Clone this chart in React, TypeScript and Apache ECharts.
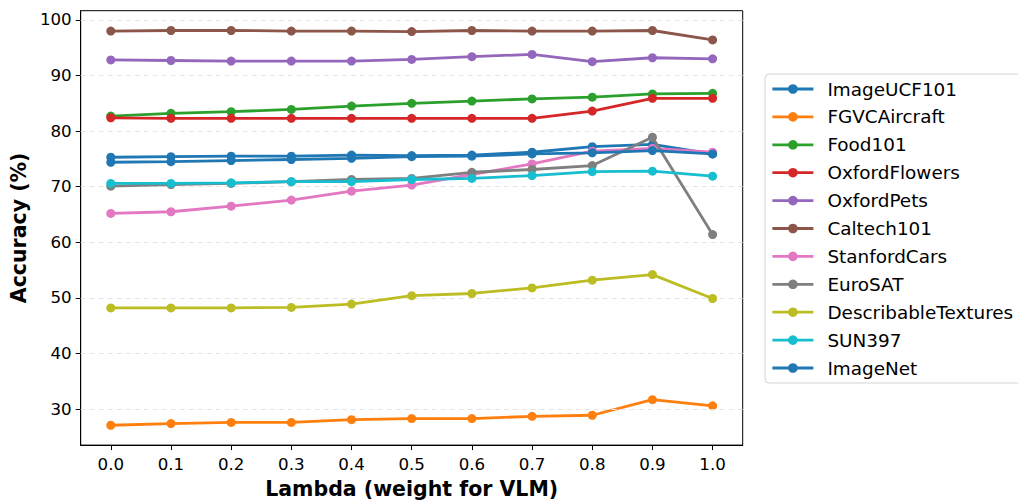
import React, { useEffect, useRef } from "react";
import * as echarts from "echarts";

const lambdas = [0.0, 0.1, 0.2, 0.3, 0.4, 0.5, 0.6, 0.7, 0.8, 0.9, 1.0];
const xTicks = [0.0, 0.1, 0.2, 0.3, 0.4, 0.5, 0.6, 0.7, 0.8, 0.9, 1.0];
const yTicks = [30, 40, 50, 60, 70, 80, 90, 100];

const seriesNames = [
  "ImageUCF101",
  "FGVCAircraft",
  "Food101",
  "OxfordFlowers",
  "OxfordPets",
  "Caltech101",
  "StanfordCars",
  "EuroSAT",
  "DescribableTextures",
  "SUN397",
  "ImageNet",
];

const imageUCF101 = [75.3, 75.4, 75.5, 75.5, 75.7, 75.6, 75.7, 76.2, 77.2, 77.6, 75.9];
const fgvcAircraft = [27.1, 27.4, 27.6, 27.6, 28.1, 28.3, 28.3, 28.7, 28.9, 31.7, 30.6];
const food101 = [82.7, 83.2, 83.5, 83.9, 84.5, 85.0, 85.4, 85.8, 86.1, 86.7, 86.8];
const oxfordFlowers = [82.4, 82.3, 82.3, 82.3, 82.3, 82.3, 82.3, 82.3, 83.6, 85.9, 85.9];
const oxfordPets = [92.8, 92.7, 92.6, 92.6, 92.6, 92.9, 93.4, 93.8, 92.5, 93.2, 93.0];
const caltech101 = [98.0, 98.1, 98.1, 98.0, 98.0, 97.9, 98.1, 98.0, 98.0, 98.1, 96.4];
const stanfordCars = [65.2, 65.5, 66.5, 67.6, 69.2, 70.3, 72.2, 74.1, 76.4, 76.9, 76.2];
const euroSAT = [70.1, 70.4, 70.6, 70.9, 71.3, 71.5, 72.6, 73.1, 73.8, 78.9, 61.4];
const describableTextures = [48.2, 48.2, 48.2, 48.3, 48.9, 50.4, 50.8, 51.8, 53.2, 54.2, 49.9];
const sun397 = [70.6, 70.6, 70.7, 70.9, 70.9, 71.3, 71.5, 72.0, 72.7, 72.8, 71.9];
const imageNet = [74.4, 74.5, 74.7, 74.9, 75.1, 75.4, 75.5, 75.9, 76.1, 76.5, 75.9];

const seriesValues = [
  imageUCF101,
  fgvcAircraft,
  food101,
  oxfordFlowers,
  oxfordPets,
  caltech101,
  stanfordCars,
  euroSAT,
  describableTextures,
  sun397,
  imageNet,
];

const colors = [
  "#1f77b4",
  "#ff7f0e",
  "#2ca02c",
  "#d62728",
  "#9467bd",
  "#8c564b",
  "#e377c2",
  "#7f7f7f",
  "#bcbd22",
  "#17becf",
  "#1f77b4",
];

const FONT = "DejaVu Sans";

export default function App() {
  const ref = useRef<HTMLDivElement>(null);
  useEffect(() => {
    if (!ref.current) return;
    const chart = echarts.init(ref.current, undefined, { renderer: "svg" });
    const lineSeries = seriesNames.map((name, i) => ({
      name,
      type: "line",
      data: lambdas.map((x, j) => [x, seriesValues[i][j]]),
      symbol: "circle",
      symbolSize: 9,
      lineStyle: { width: 2.8, color: colors[i] },
      itemStyle: { color: colors[i] },
      z: 3 + i,
    }));
    const gridSeries = {
      name: "__grid",
      type: "line",
      data: [],
      silent: true,
      z: 1,
      markLine: {
        silent: true,
        symbol: ["none", "none"],
        label: { show: false },
        lineStyle: { color: "#e4e4e4", type: [5, 4], width: 1 },
        data: yTicks.map((v) => ({ yAxis: v })),
        animation: false,
      },
    };
    chart.setOption({
      animation: false,
      textStyle: { fontFamily: FONT },
      grid: {
        left: 79,
        top: 10.7,
        right: 275.3,
        bottom: 54.7,
        show: true,
        borderColor: "#000",
        borderWidth: 1,
        backgroundColor: "transparent",
      },
      legend: {
        data: seriesNames,
        orient: "vertical",
        left: 765,
        top: 74,
        padding: [5, 20, 5, 6],
        itemWidth: 41,
        itemHeight: 12,
        itemGap: 7.9,
        backgroundColor: "#fff",
        borderColor: "#d4d4d4",
        borderWidth: 1,
        borderRadius: 4,
        lineStyle: { width: 2.8 },
        textStyle: {
          fontFamily: FONT,
          fontSize: 18.4,
          color: "#000",
          lineHeight: 20,
          padding: [0, 0, 0, 9],
        },
      },
      xAxis: {
        type: "value",
        min: -0.05,
        max: 1.05,
        name: "Lambda (weight for VLM)",
        nameLocation: "middle",
        nameGap: 32,
        nameTextStyle: { fontFamily: FONT, fontSize: 20.5, fontWeight: "bold", color: "#000" },
        axisLine: { show: true, onZero: false, lineStyle: { color: "#000", width: 1 } },
        axisTick: { show: true, inside: false, length: 5, lineStyle: { color: "#000" }, customValues: xTicks },
        axisLabel: {
          customValues: xTicks,
          formatter: (v: number) => v.toFixed(1),
          fontFamily: FONT,
          fontSize: 16.67,
          color: "#000",
          margin: 11,
        },
        splitLine: { show: false },
      },
      yAxis: {
        type: "value",
        min: 23.53,
        max: 101.66,
        name: "Accuracy (%)",
        nameLocation: "middle",
        nameGap: 50,
        nameTextStyle: { fontFamily: FONT, fontSize: 20.5, fontWeight: "bold", color: "#000" },
        axisLine: { show: true, onZero: false, lineStyle: { color: "#000", width: 1 } },
        axisTick: { show: true, inside: false, length: 5, lineStyle: { color: "#000" }, customValues: yTicks },
        axisLabel: {
          customValues: yTicks,
          formatter: (v: number) => String(v),
          fontFamily: FONT,
          fontSize: 16.67,
          color: "#000",
          margin: 9,
        },
        splitLine: { show: false },
      },
      series: [gridSeries, ...lineSeries],
    });
    return () => chart.dispose();
  }, []);
  return <div ref={ref} style={{ width: 1018, height: 504, position: "absolute", left: 0, top: 0 }} />;
}
